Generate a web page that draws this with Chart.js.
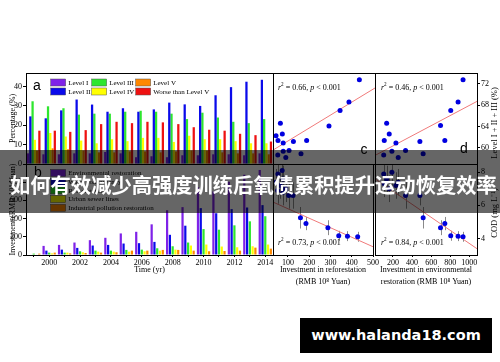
<!DOCTYPE html>
<html><head><meta charset="utf-8">
<script src="https://cdn.jsdelivr.net/npm/chart.js@4.4.1/dist/chart.umd.min.js"></script>
<style>
html,body{margin:0;padding:0;background:#fff;}
body{width:500px;height:362px;position:relative;overflow:hidden;}
canvas{position:absolute;}
#band{position:absolute;left:0;top:150px;width:500px;height:63px;background:rgba(0,0,0,0.6);}
#bandText{position:absolute;left:10px;top:170px;font:bold 20.3px "Noto Sans CJK SC";color:#fff;white-space:nowrap;line-height:28px;}
#wm{position:absolute;left:300px;top:318px;width:192px;height:35px;background:#000;color:#fff;font:bold 14.5px "DejaVu Sans";line-height:35px;text-align:center;}
</style></head>
<body>
<canvas id="cA" width="280" height="110" style="left:0;top:60px"></canvas>
<canvas id="cB" width="280" height="130" style="left:0;top:150px"></canvas>
<canvas id="cCT" width="112" height="110" style="left:268px;top:60px"></canvas>
<canvas id="cDT" width="130" height="110" style="left:370px;top:60px"></canvas>
<canvas id="cCB" width="112" height="140" style="left:268px;top:150px"></canvas>
<canvas id="cDB" width="130" height="140" style="left:370px;top:150px"></canvas>
<div id="band"></div>
<div id="bandText">如何有效减少高强度训练后氧债累积提升运动恢复效率</div>
<div id="wm">www.halanda18.com</div>
<script>
// ---------- data ----------
const years = ['1999','2000','2001','2002','2003','2004','2005','2006','2007','2008','2009','2010','2011','2012','2013','2014'];
const yearTickLabels = ['2000','2002','2004','2006','2008','2010','2012','2014'];
const pctTicks = [0,10,20,30,40];
const invTicks = [0,200,400,600,800];
const levelI   = [5.5,5,5,5.5,5.5,6.2,5.5,3.5,4,3.5,4.5,4.5,5,5,4.5,5.5];
const levelII  = [24.6,23.6,27.7,33.3,30.7,27,28.8,27,28.2,31.7,30.8,30,35.5,39.7,42.5,43.5];
const levelIII = [32.4,29.8,28.8,25.5,26,26,27,27.5,27,26,23.2,26.5,24,21.8,21.1,23.2];
const levelIV  = [12.5,16,14.2,12.1,10.7,12.8,11.8,13.5,13.5,11.4,14.6,12.8,12.8,11.8,10.7,10.7];
const levelV   = [7,8.1,7.6,7,6,6,6.5,6.5,6,6.5,7,7,6,5.5,5.5,5];
const worseV   = [17.2,17.2,16.6,17.5,20.6,21.8,21.1,21.8,21.5,20.6,19,17.7,17.2,15.6,14.9,11.6];

const invEnv   = [0,100,111,137,163,189,237,255,337,492,526,743,698,805,882,934];
const invWater = [0,48,59,78,104,111,126,130,144,222,322,515,459,504,522,548];
const invRefor = [15,26,26,41,48,48,56,59,74,96,137,285,278,326,370,426];
const invSewer = [5,18,26,30,37,37,37,41,48,59,104,115,93,85,96,115];
const invIndus = [15,26,18,22,26,30,48,48,56,56,48,41,44,48,81,70];

const reforX   = [44,52,53,64,73,77,77,89,104,124,159,185,288,339,380,428];
const levelSumC= [62.3,58.7,61.4,64.6,62.6,59.4,60.9,58.2,59.5,61.2,58.9,61.4,64.1,67.0,68.6,72.75];
const envX     = [103,109,134,161,189,231,255,332,482,516,698,743,805,882,934];
const levelSumD= [58.7,61.4,64.6,62.6,59.4,60.9,58.2,59.5,61.2,58.9,64.2,61.4,67.0,68.6,72.75];
const codC     = [7.4,6.9,7.9,7.2,8.1,6.8,7.6,7.0,6.6,6.6,5.25,4.9,4.65,4.16,4.14,4.1];
const codErrC  = [0.8,0.8,0.8,0.8,0.8,0.8,0.8,0.8,0.8,0.8,0.65,0.4,0.45,0.3,0.3,0.3];
const codD     = [7.9,7.3,7.6,7.0,8.0,7.2,7.4,6.6,6.6,5.25,4.65,4.9,4.16,4.14,4.1];
const codErrD  = [0.8,0.8,0.8,0.8,0.8,0.8,0.8,0.8,0.6,0.65,0.45,0.4,0.3,0.3,0.3];

const regCX = [30,500], regCTopY = [59.6,71.2], regCBotY = [6.2,3.5];
const regDX = [12,1080], regDTopY = [58.6,68.7], regDBotY = [7.6,3.38];
const statsR2 = ['0.66','0.46','0.73','0.84'];
const reforTicks = [100,200,300,400,500];
const envTicks = [200,400,600,800,1000];
const levelTicks = [60,64,68,72];
const codTicks = [4,6,8];

// ---------- style ----------
const COL = {purple:'#7f22e8', blue:'#0a0aea', green:'#2ee62e', yellow:'#ffff00', orange:'#ff8800', red:'#ee1111'};
const DOT = '#0000e0', REG = '#f07a7a';
Chart.defaults.font.family = '"Liberation Serif"';
Chart.defaults.font.size = 8;
Chart.defaults.color = '#000';

function drawRich(ctx, x, y, parts, size){
  let cx = x;
  for (const p of parts){
    const fs = p.sup ? size*0.65 : size;
    ctx.font = (p.it ? 'italic ' : '') + fs + 'px "Liberation Serif"';
    ctx.fillText(p.t, cx, y + (p.sup ? -size*0.4 : 0));
    cx += ctx.measureText(p.t).width;
  }
}
function statParts(r2){ return [{t:'r',it:1},{t:'2',sup:1},{t:' = '+r2+', '},{t:'p',it:1},{t:' < 0.001'}]; }

const framePlugin = { id:'frame', afterDraw(chart){
  const {ctx, chartArea:a} = chart; ctx.save(); ctx.strokeStyle='#000'; ctx.lineWidth=1;
  ctx.strokeRect(Math.round(a.left)+0.5, Math.round(a.top)+0.5, Math.round(a.right-a.left), Math.round(a.bottom-a.top));
  ctx.restore(); } };

const txtPlugin = { id:'txt', afterDraw(chart, args, opts){
  const {ctx, chartArea:a} = chart;
  (opts.items||[]).forEach(it=>{
    ctx.save(); ctx.fillStyle='#000'; ctx.textBaseline='middle';
    const x = it.fromRight ? a.right - it.dx : a.left + it.dx;
    const y = it.fromBottom ? a.bottom - it.dy : a.top + it.dy;
    if (it.rich){ ctx.textAlign='left'; drawRich(ctx, x, y, it.rich, it.size); }
    else { ctx.font = it.font; ctx.textAlign = it.align || 'center';
      if (it.rot){ ctx.translate(x,y); ctx.rotate(it.rot); ctx.fillText(it.text,0,0); }
      else ctx.fillText(it.text, x, y); }
    ctx.restore(); }); } };

const legendPlugin = { id:'boxLegend', afterDraw(chart, args, opts){
  if (!opts.pos) return; const {ctx, chartArea:a} = chart; ctx.save();
  ctx.font='7px "Liberation Serif"'; ctx.textBaseline='middle'; ctx.textAlign='left';
  chart.data.datasets.forEach((ds,i)=>{ const p = opts.pos[i]; if(!p) return;
    const x = a.left + p[0], y = a.top + p[1];
    ctx.fillStyle = ds.backgroundColor; ctx.fillRect(x, y-3.5, 15, 7);
    ctx.strokeStyle='#555'; ctx.lineWidth=0.5; ctx.strokeRect(x, y-3.5, 15, 7);
    ctx.fillStyle='#000'; ctx.fillText(ds.label, x+17.5, y+0.5); });
  ctx.restore(); } };

const errPlugin = { id:'errbars', beforeDatasetsDraw(chart){
  const {ctx, chartArea:a, scales} = chart; ctx.save();
  ctx.beginPath(); ctx.rect(a.left, a.top, a.right-a.left, a.bottom-a.top); ctx.clip();
  ctx.strokeStyle='#8a8a8a'; ctx.lineWidth=1;
  chart.data.datasets.forEach(ds=>{ if(!ds.err) return;
    ds.data.forEach((p,i)=>{ const px = Math.round(scales.x.getPixelForValue(p.x))+0.5;
      ctx.beginPath(); ctx.moveTo(px, scales.y.getPixelForValue(p.y+ds.err[i]));
      ctx.lineTo(px, scales.y.getPixelForValue(p.y-ds.err[i])); ctx.stroke(); }); });
  ctx.restore(); } };

const tickGrid = {drawOnChartArea:false, tickLength:3, color:'#000'};
const fixedTicks = arr => (s => { s.ticks = arr.map(v=>({value:v})); });
const plain = v => String(v);
const base = {responsive:false, animation:false, devicePixelRatio:1, events:[]};

// ---------- panel a ----------
new Chart(document.getElementById('cA'), {
  type:'bar',
  data:{labels:years, datasets:[
    {label:'Level I', data:levelI, backgroundColor:COL.purple},
    {label:'Level II', data:levelII, backgroundColor:COL.blue},
    {label:'Level III', data:levelIII, backgroundColor:COL.green},
    {label:'Level IV', data:levelIV, backgroundColor:COL.yellow},
    {label:'Level V', data:levelV, backgroundColor:COL.orange},
    {label:'Worse than Level V', data:worseV, backgroundColor:COL.red}]},
  options:{...base,
    layout:{padding:{left:0,top:13,right:7,bottom:6}},
    datasets:{bar:{categoryPercentage:0.88, barPercentage:1, borderWidth:0}},
    plugins:{legend:{display:false}, tooltip:{enabled:false},
      boxLegend:{pos:[[24.7,9.5],[24.7,18.5],[65.7,9.5],[65.7,18.5],[109.7,9.5],[109.7,18.5]]},
      txt:{items:[{text:'a', font:'14px "Liberation Sans"', dx:11, dy:13.5}]}},
    scales:{
      x:{display:false},
      y:{min:0, max:47, afterFit:s=>{s.width=26;}, afterBuildTicks:fixedTicks(pctTicks),
        grid:tickGrid, border:{display:false}, ticks:{padding:1, callback:plain},
        title:{display:true, text:'Percentage (%)', padding:{top:8,bottom:0}}}}},
  plugins:[framePlugin, legendPlugin, txtPlugin]});

// ---------- panel b ----------
new Chart(document.getElementById('cB'), {
  type:'bar',
  data:{labels:years, datasets:[
    {label:'Environmental restoration', data:invEnv, backgroundColor:COL.purple},
    {label:'Water conservancy', data:invWater, backgroundColor:COL.blue},
    {label:'Reforestation', data:invRefor, backgroundColor:COL.green},
    {label:'Urban sewer lines', data:invSewer, backgroundColor:COL.yellow},
    {label:'Industrial pollution restoration', data:invIndus, backgroundColor:COL.orange}]},
  options:{...base,
    layout:{padding:{left:0,top:14,right:7,bottom:0}},
    datasets:{bar:{categoryPercentage:0.9, barPercentage:0.8, borderWidth:0}},
    plugins:{legend:{display:false}, tooltip:{enabled:false},
      boxLegend:{pos:[[24.7,9],[24.7,17.7],[24.7,26.4],[24.7,35.1],[24.7,43.8]]},
      txt:{items:[{text:'b', font:'14px "Liberation Sans"', dx:12, dy:9}]}},
    scales:{
      x:{afterFit:s=>{s.height=25;}, grid:{...tickGrid, tickLength:2, offset:false}, border:{display:false},
        ticks:{autoSkip:false, maxRotation:0, minRotation:0, padding:1,
          callback:function(v){ const l=this.getLabelForValue(v); return yearTickLabels.includes(l)?l:''; }},
        title:{display:true, text:'Time (yr)', padding:{top:0,bottom:5}}},
      y:{min:0, max:1000, afterFit:s=>{s.width=26;}, afterBuildTicks:fixedTicks(invTicks),
        grid:tickGrid, border:{display:false}, ticks:{padding:1, callback:plain},
        title:{display:true, text:'Investment (RMB 10⁸ Yuan)', padding:{top:8,bottom:0}}}}},
  plugins:[framePlugin, legendPlugin, txtPlugin]});

// ---------- scatter panels ----------
function scatter(id, o){
  return new Chart(document.getElementById(id), {
    type:'scatter',
    data:{datasets:[
      {data:o.xs.map((x,i)=>({x, y:o.ys[i]})), backgroundColor:DOT, borderColor:DOT, pointRadius:2.5, borderWidth:0, order:0, err:o.err},
      {type:'line', data:o.rx.map((x,i)=>({x, y:o.ry[i]})), borderColor:REG, borderWidth:1, pointRadius:0, fill:false, order:1}]},
    options:{...base, layout:{padding:o.pad},
      plugins:{legend:{display:false}, tooltip:{enabled:false}, txt:{items:o.txt}},
      scales:{
        x:o.xAxis,
        y:o.yAxis}},
    plugins:[errPlugin, framePlugin, txtPlugin]});
}
const hidden = (min,max) => ({type:'linear', display:false, min, max});
const rightY = (min,max,ticks) => ({type:'linear', position:'right', min, max, afterFit:s=>{s.width=23;},
  afterBuildTicks:fixedTicks(ticks), grid:tickGrid, border:{display:false}, ticks:{padding:1, callback:plain}});
const bottomX = (min,max,ticks,title) => ({type:'linear', min, max, afterFit:s=>{s.height=35;},
  afterBuildTicks:fixedTicks(ticks), grid:{...tickGrid, tickLength:2}, border:{display:false}, ticks:{padding:1, callback:plain},
  title:{display:true, text:title, font:{size:8, lineHeight:1.5}, padding:{top:0,bottom:2}}});

scatter('cCT', {xs:reforX, ys:levelSumC, rx:regCX, ry:regCTopY, pad:{left:5,right:5,top:13,bottom:6},
  xAxis:hidden(30,500), yAxis:hidden(57,74),
  txt:[{rich:statParts(statsR2[0]), size:8, dx:5, dy:15},
       {text:'c', font:'14px "Liberation Sans"', fromRight:1, dx:11, fromBottom:1, dy:14}]});
scatter('cDT', {xs:envX, ys:levelSumD, rx:regDX, ry:regDTopY, pad:{left:5,right:0,top:13,bottom:6},
  xAxis:hidden(12,1080), yAxis:rightY(57,74,levelTicks),
  txt:[{rich:statParts(statsR2[1]), size:8, dx:6, dy:15},
       {text:'d', font:'14px "Liberation Sans"', fromRight:1, dx:13, fromBottom:1, dy:15},
       {text:'Level I + II + III (%)', font:'8.5px "Liberation Serif"', fromRight:1, dx:-18, dy:50, rot:-Math.PI/2}]});
scatter('cCB', {xs:reforX, ys:codC, err:codErrC, rx:regCX, ry:regCBotY, pad:{left:5,right:5,top:14,bottom:0},
  xAxis:bottomX(30,500,reforTicks,['Investment in reforestation','(RMB 10⁸ Yuan)']), yAxis:hidden(3,8.5),
  txt:[{rich:statParts(statsR2[2]), size:8, dx:5, fromBottom:1, dy:12}]});
scatter('cDB', {xs:envX, ys:codD, err:codErrD, rx:regDX, ry:regDBotY, pad:{left:5,right:0,top:14,bottom:0},
  xAxis:bottomX(12,1080,envTicks,['Investment in environmental','restoration (RMB 10⁸ Yuan)']), yAxis:rightY(3,8.5,codTicks),
  txt:[{rich:statParts(statsR2[3]), size:8, dx:6, fromBottom:1, dy:12},
       {text:'COD (mg L⁻¹)', font:'8.5px "Liberation Serif"', fromRight:1, dx:-18, dy:49, rot:-Math.PI/2}]});
</script>
</body></html>
